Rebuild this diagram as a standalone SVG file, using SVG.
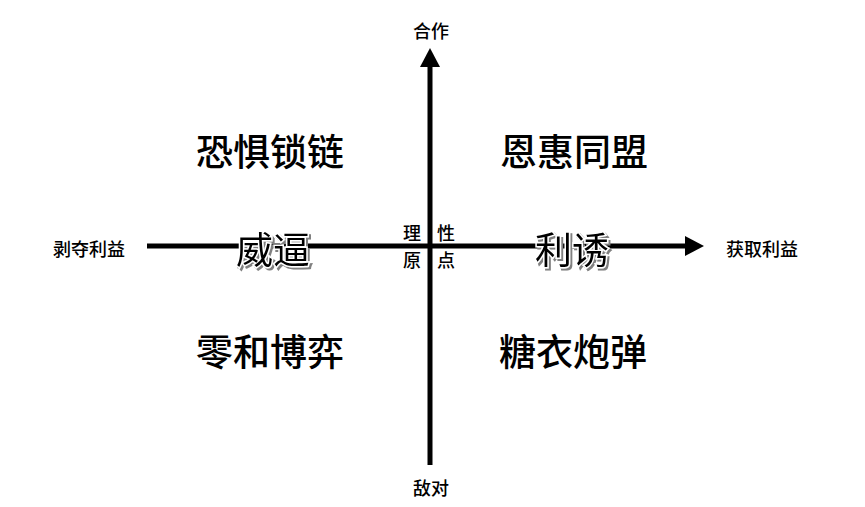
<svg xmlns="http://www.w3.org/2000/svg" width="865" height="507" viewBox="0 0 865 507">
<defs>
<style>
text{font-family:"Noto Sans CJK SC","Noto Sans",sans-serif;fill:#000;text-anchor:middle;dominant-baseline:central}
.small{font-size:18px;font-weight:500}
.big{font-size:37px;font-weight:500}
.mid{font-size:18px;font-weight:500}
.sh{font-size:37px;font-weight:400;fill:#000;stroke:#fff;stroke-width:3px;paint-order:stroke;filter:url(#shadow)}
.axis{stroke:#000;stroke-width:5;fill:none}
</style>
<filter id="shadow" x="-10%" y="-10%" width="130%" height="130%">
<feDropShadow dx="2" dy="2" stdDeviation="0.6" flood-color="#808080" flood-opacity="1"/>
</filter>
<marker id="ah" markerUnits="userSpaceOnUse" markerWidth="20" markerHeight="20" refX="0" refY="10" orient="auto" viewBox="0 0 20 20">
<path d="M0,0 L19,10 L0,20 Z" fill="#000"/>
</marker>
</defs>
<rect width="865" height="507" fill="#fff"/>
<g id="connectors">
<line class="axis" x1="147" y1="246" x2="685" y2="246" marker-end="url(#ah)"/>
<line class="axis" x1="430" y1="465" x2="430" y2="67" marker-end="url(#ah)"/>
</g>
<g id="top-label"><text class="small" x="431" y="30">合作</text></g>
<g id="bottom-label"><text class="small" x="431" y="487">敌对</text></g>
<g id="left-label"><text class="small" x="89" y="248">剥夺利益</text></g>
<g id="right-label"><text class="small" x="762" y="248">获取利益</text></g>
<g id="q-top-left"><text class="big" x="270" y="150">恐惧锁链</text></g>
<g id="q-top-right"><text class="big" x="574" y="150">恩惠同盟</text></g>
<g id="q-bottom-left"><text class="big" x="270" y="350">零和博弈</text></g>
<g id="q-bottom-right"><text class="big" x="573" y="350">糖衣炮弹</text></g>
<g id="weibi"><text class="sh" x="273" y="248">威逼</text></g>
<g id="liyou"><text class="sh" x="572" y="248">利诱</text></g>
<g id="origin">
<text class="mid" x="412" y="232">理</text>
<text class="mid" x="446" y="232">性</text>
<text class="mid" x="412" y="259">原</text>
<text class="mid" x="446" y="259">点</text>
</g>
</svg>
